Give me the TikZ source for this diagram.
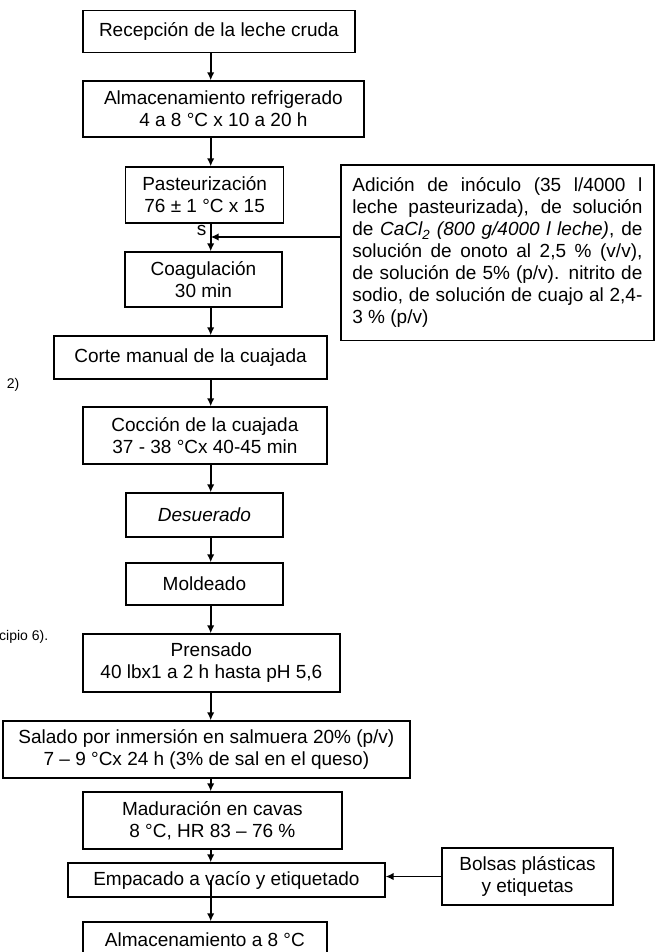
\documentclass[tikz,border=0pt]{standalone}
\usepackage{fontspec}
\setmainfont{Liberation Sans}
\usetikzlibrary{arrows.meta, positioning}

\begin{document}
\begin{tikzpicture}[
  x=1pt, y=-1pt,
  >={Latex[length=8pt,width=7.5pt]},
  every node/.style={font=\fontsize{19}{22}\selectfont, inner sep=0pt},
  stepbox/.style={draw, line width=1.4pt, align=center},
  flow/.style={->, line width=1.6pt},
  scrap/.style={font=\fontsize{14}{16}\selectfont},
]
\useasboundingbox (0,0) rectangle (659,952);
\coordinate (spine) at (210.7,0);

% main line
\node (recep) [stepbox, minimum width=272pt, minimum height=42pt] at (218.9,31.7) {Recepción de la leche cruda};
\node (almac) [stepbox, minimum width=281pt, minimum height=56pt] at (223.4,109) {Almacenamiento refrigerado\\4 a 8 °C x 10 a 20 h};
\node (pasteur) [stepbox, minimum width=158pt, minimum height=56pt] at (204.6,195) {Pasteurización\\76 ± 1 °C x 15};
\node (coag) [stepbox, minimum width=157pt, minimum height=55pt] at (203.5,279.5) {Coagulación\\30 min};
\node (corte) [stepbox, minimum width=273pt, minimum height=43pt] at (190.5,357.5) {Corte manual de la cuajada};
\node (coccion) [stepbox, minimum width=244pt, minimum height=57pt] at (204.9,435.5) {Cocción de la cuajada\\37 - 38 °Cx 40-45 min};
\node (desuer) [stepbox, minimum width=157pt, minimum height=44pt] at (204.4,515) {\itshape Desuerado};
\node (mold) [stepbox, minimum width=157pt, minimum height=42pt] at (204.4,584) {Moldeado};
\node (prens) [stepbox, minimum width=257pt, minimum height=58pt] at (211.4,663) {Prensado\\40 lbx1 a 2 h hasta pH 5,6};
\node (salado) [stepbox, minimum width=407pt, minimum height=57pt] at (206.4,749.5) {Salado por inmersión en salmuera 20\% (p/v)\\7 – 9 °Cx 24 h (3\% de sal en el queso)};
\node (madur) [stepbox, minimum width=259pt, minimum height=57pt] at (212.4,820.5) {Maduración en cavas\\8 °C, HR 83 – 76 \%};
\node (empac) [stepbox, minimum width=317pt, minimum height=34pt] at (226.4,880) {Empacado a vacío y etiquetado};
\node (almacf) [stepbox, minimum width=244pt, minimum height=36pt] at (204.9,940) {Almacenamiento a 8 °C};

% side inputs
\node (adic) [draw, line width=1.4pt, text width=290pt, align=justify, inner xsep=11.6pt, minimum height=175.7pt] at (497.4,252.9)
  {Adición de inóculo (35 l/4000 l\linebreak
   leche pasteurizada), de solución\linebreak
   de \textit{CaCl\textsubscript{2} (800 g/4000 l leche)}, de\linebreak
   solución de onoto al 2,5 \% (v/v),\linebreak
   de solución de 5\% (p/v). nitrito de\linebreak
   sodio, de solución de cuajo al 2,4-\linebreak
   3 \% (p/v)};
\node (bolsas) [stepbox, minimum width=171pt, minimum height=57pt] at (527.5,876.5) {Bolsas plásticas\\y etiquetas};

% stray text
\node (sfrag) at (201.7,230) {s};
\node (dos) [scrap] at (13,385) {2)};
\node (princ) [scrap, anchor=west] at (-1,637) {cipio 6).};

\coordinate (join) at (210.7,237);

\draw[flow] (recep.south -| spine) -- (almac.north -| spine);
\draw[flow] (almac.south -| spine) -- (pasteur.north -| spine);
\draw[flow] (pasteur.south -| spine) -- (coag.north -| spine);
\draw[flow] (join -| adic.west) -- (join);
\draw[flow] (coag.south -| spine) -- (corte.north -| spine);
\draw[flow] (corte.south -| spine) -- (coccion.north -| spine);
\draw[flow] (coccion.south -| spine) -- (desuer.north -| spine);
\draw[flow] (desuer.south -| spine) -- (mold.north -| spine);
\draw[flow] (mold.south -| spine) -- (prens.north -| spine);
\draw[flow] (prens.south -| spine) -- (salado.north -| spine);
\draw[flow] (salado.south -| spine) -- (madur.north -| spine);
\draw[flow] (madur.south -| spine) -- (empac.north -| spine);
\draw[flow] (empac.center -| spine) -- (almacf.north -| spine);
\draw[flow] (bolsas.west) -- (bolsas.west -| empac.east);
\end{tikzpicture}
\end{document}
